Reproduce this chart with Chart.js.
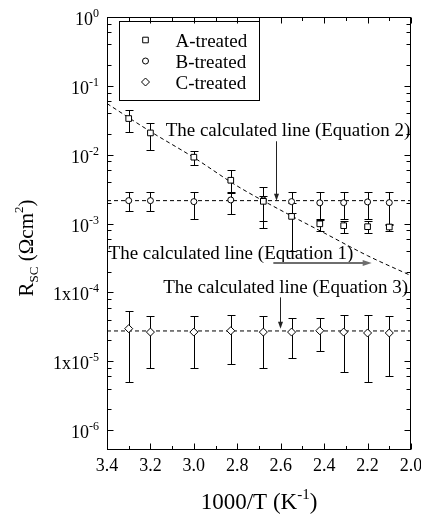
<!DOCTYPE html>
<html>
<head>
<meta charset="utf-8">
<script src="https://cdn.jsdelivr.net/npm/chart.js@4.4.1/dist/chart.umd.min.js"></script>
<style>
  body { margin: 0; background: #fff; }
  #wrap { width: 421px; height: 514px; }
</style>
</head>
<body>
<div id="wrap"><canvas id="chart" width="421" height="514"></canvas></div>
<script>
// 1000/T positions of the measured points
const xValues = [3.3, 3.2, 3.0, 2.83, 2.68, 2.55, 2.42, 2.31, 2.2, 2.1];

// A-treated
const aValues = [0.0335, 0.0207, 0.0092, 0.00425, 0.0021, 0.00127, 0.00099, 0.00093, 0.0009, 0.00089];
const aLow    = [0.0212, 0.0116, 0.0070, 0.0028, 0.00085, 0.000404, 0.00077, 0.00073, 0.00072, 0.00077];
const aHigh   = [0.0442, 0.029, 0.0112, 0.00593, 0.0025, 0.002, 0.00114, 0.00108, 0.0011, 0.001];

// B-treated
const bValues = [0.00215, 0.00215, 0.00208, 0.0022, 0.0022, 0.00208, 0.002, 0.00201, 0.00206, 0.00201];
const bLow    = [0.0015, 0.0015, 0.00118, 0.00139, 0.00108, 0.0014, 0.00118, 0.00118, 0.00118, 0.00096];
const bHigh   = [0.00288, 0.00288, 0.00288, 0.00288, 0.00336, 0.00288, 0.00288, 0.00288, 0.00288, 0.00288];

// C-treated
const cValues = [2.97e-5, 2.65e-5, 2.65e-5, 2.77e-5, 2.65e-5, 2.65e-5, 2.77e-5, 2.65e-5, 2.57e-5, 2.57e-5];
const cLow    = [4.99e-6, 8.05e-6, 8.05e-6, 8.98e-6, 8.05e-6, 1.11e-5, 1.39e-5, 6.97e-6, 4.99e-6, 6.01e-6];
const cHigh   = [5.42e-5, 4.54e-5, 4.54e-5, 4.69e-5, 4.54e-5, 4.25e-5, 4.25e-5, 4.69e-5, 4.69e-5, 4.54e-5];

// calculated lines
const eq2X = [3.4, 3.2, 3.0, 2.8, 2.6, 2.4, 2.2, 2.0];
const eq2Y = [0.0553, 0.0217, 0.00908, 0.0035, 0.00156, 0.00073, 0.000341, 0.000175];
const eq1Level = 0.00215;
const eq3Level = 2.75e-5;

// tick labels
const xTickValues = [3.4, 3.2, 3.0, 2.8, 2.6, 2.4, 2.2, 2.0];
const xTickLabels = ["3.4", "3.2", "3.0", "2.8", "2.6", "2.4", "2.2", "2.0"];
const xMinorTicks = [3.3, 3.1, 2.9, 2.7, 2.5, 2.3, 2.1];
const yTickValues = [1, 0.1, 0.01, 1e-3, 1e-4, 1e-5, 1e-6];
const yTickBases  = ["10", "10", "10", "10", "1x10", "1x10", "10"];
const yTickExps   = ["0", "-1", "-2", "-3", "-4", "-5", "-6"];

const serif = '"Liberation Serif", "Times New Roman", serif';

function pairs(xs, ys) {
  return xs.map((x, i) => ({ x: x, y: ys[i] }));
}

// draws text made of pieces with different sizes (for super/subscripts)
function drawRuns(ctx, runs, x, y, align) {
  let total = 0;
  runs.forEach(r => {
    ctx.font = r.size + "px " + serif;
    r.w = ctx.measureText(r.t).width;
    total += r.w;
  });
  let cx = align === "right" ? x - total : align === "center" ? x - total / 2 : x;
  ctx.textAlign = "left";
  ctx.textBaseline = "alphabetic";
  runs.forEach(r => {
    ctx.font = r.size + "px " + serif;
    ctx.fillText(r.t, cx, y + (r.dy || 0));
    cx += r.w;
  });
}

function marker(ctx, style, x, y) {
  ctx.beginPath();
  if (style === "rect") {
    ctx.rect(x - 2.8, y - 2.8, 5.6, 5.6);
  } else if (style === "circle") {
    ctx.arc(x, y, 3, 0, Math.PI * 2);
  } else {
    ctx.moveTo(x - 4, y); ctx.lineTo(x, y - 4); ctx.lineTo(x + 4, y); ctx.lineTo(x, y + 4); ctx.closePath();
  }
  ctx.fillStyle = "#fff";
  ctx.fill();
  ctx.strokeStyle = "#000";
  ctx.lineWidth = 1;
  ctx.stroke();
}

function arrowHead(ctx, x, y, dir, len, half) {
  ctx.beginPath();
  if (dir === "down") {
    ctx.moveTo(x, y); ctx.lineTo(x - half, y - len); ctx.lineTo(x + half, y - len);
  } else {
    ctx.moveTo(x, y); ctx.lineTo(x - len, y - half); ctx.lineTo(x - len, y + half);
  }
  ctx.closePath();
  ctx.fill();
}

// error bars, drawn under the markers
const errorBars = {
  id: "errorBars",
  beforeDatasetsDraw(chart) {
    const ctx = chart.ctx;
    const xs = chart.scales.x, ys = chart.scales.y;
    const sets = [[aLow, aHigh], [bLow, bHigh], [cLow, cHigh]];
    ctx.save();
    ctx.strokeStyle = "#000";
    ctx.lineWidth = 1;
    sets.forEach(s => {
      xValues.forEach((xv, i) => {
        const px = Math.round(xs.getPixelForValue(xv)) + 0.5;
        const lo = Math.round(ys.getPixelForValue(s[0][i])) + 0.5;
        const hi = Math.round(ys.getPixelForValue(s[1][i])) + 0.5;
        ctx.beginPath();
        ctx.moveTo(px, lo); ctx.lineTo(px, hi);
        ctx.moveTo(px - 4, lo); ctx.lineTo(px + 4, lo);
        ctx.moveTo(px - 4, hi); ctx.lineTo(px + 4, hi);
        ctx.stroke();
      });
    });
    ctx.restore();
  }
};

// frame, inward ticks, labels, legend and annotations
const decorations = {
  id: "decorations",
  afterDraw(chart) {
    const ctx = chart.ctx;
    const a = chart.chartArea;
    const xs = chart.scales.x, ys = chart.scales.y;
    const L = a.left + 0.5, R = a.right - 0.5, T = a.top + 0.5, B = a.bottom - 0.5;
    ctx.save();
    ctx.strokeStyle = "#000";
    ctx.fillStyle = "#000";
    ctx.lineWidth = 1;
    ctx.strokeRect(L, T, R - L, B - T);

    ctx.beginPath();
    xTickValues.forEach(v => {
      const p = Math.round(xs.getPixelForValue(v)) + 0.5;
      ctx.moveTo(p, B); ctx.lineTo(p, B - 6);
      ctx.moveTo(p, T); ctx.lineTo(p, T + 6);
    });
    xMinorTicks.forEach(v => {
      const p = Math.round(xs.getPixelForValue(v)) + 0.5;
      ctx.moveTo(p, B); ctx.lineTo(p, B - 3.5);
      ctx.moveTo(p, T); ctx.lineTo(p, T + 3.5);
    });
    yTickValues.forEach(v => {
      const p = Math.round(ys.getPixelForValue(v)) + 0.5;
      ctx.moveTo(L, p); ctx.lineTo(L + 6, p);
      ctx.moveTo(R, p); ctx.lineTo(R - 6, p);
      [2, 4, 6, 8].forEach(m => {
        const mv = v * m;
        if (mv > ys.max || mv < ys.min) return;
        const q = Math.round(ys.getPixelForValue(mv)) + 0.5;
        ctx.moveTo(L, q); ctx.lineTo(L + 4, q);
        ctx.moveTo(R, q); ctx.lineTo(R - 4, q);
      });
    });
    ctx.stroke();

    // tick labels
    xTickValues.forEach((v, i) => {
      drawRuns(ctx, [{ t: xTickLabels[i], size: 18 }], xs.getPixelForValue(v), a.bottom + 21, "center");
    });
    yTickValues.forEach((v, i) => {
      const p = ys.getPixelForValue(v);
      drawRuns(ctx, [
        { t: yTickBases[i], size: 18 },
        { t: yTickExps[i], size: 12, dy: -8 }
      ], a.left - 8, p + 8, "right");
    });

    // axis titles
    drawRuns(ctx, [
      { t: "1000/T (K", size: 23 },
      { t: "-1", size: 15, dy: -10 },
      { t: ")", size: 23 }
    ], (a.left + a.right) / 2, 509, "center");
    ctx.save();
    ctx.translate(33, 248);
    ctx.rotate(-Math.PI / 2);
    drawRuns(ctx, [
      { t: "R", size: 21 },
      { t: "SC", size: 13, dy: 5 },
      { t: " (\u03A9cm", size: 21 },
      { t: "2", size: 13, dy: -10 },
      { t: ")", size: 21 }
    ], 0, 0, "center");
    ctx.restore();

    // legend box
    const lx = a.left + 12, ly = a.top + 3.5;
    ctx.strokeRect(Math.round(lx) + 0.5, Math.round(ly) + 0.5, 140, 79);
    const styles = ["rect", "circle", "rectRot"];
    [0, 1, 2].forEach(i => {
      const cy = ly + 19.5 + i * 21;
      marker(ctx, styles[i], lx + 26.5, cy);
      ctx.fillStyle = "#000";
      drawRuns(ctx, [{ t: chart.data.datasets[i].label, size: 19 }], lx + 56.5, cy + 6.5, "left");
    });

    // annotations
    ctx.fillStyle = "#000";
    drawRuns(ctx, [{ t: "The calculated line (Equation 2)", size: 19 }],
      xs.getPixelForValue(3.130), ys.getPixelForValue(0.0185), "left");
    drawRuns(ctx, [{ t: "The calculated line (Equation 1)", size: 19 }],
      xs.getPixelForValue(3.393), ys.getPixelForValue(3.04e-4), "left");
    drawRuns(ctx, [{ t: "The calculated line (Equation 3)", size: 19 }],
      xs.getPixelForValue(3.141), ys.getPixelForValue(9.9e-5), "left");

    // Equation 2 arrow
    let ax = Math.round(xs.getPixelForValue(2.622)) + 0.5;
    let y1 = ys.getPixelForValue(0.01566), y2 = ys.getPixelForValue(eq1Level);
    ctx.strokeStyle = "#222";
    ctx.fillStyle = "#222";
    ctx.beginPath(); ctx.moveTo(ax, y1); ctx.lineTo(ax, y2 - 5); ctx.stroke();
    arrowHead(ctx, ax, y2, "down", 7, 2.5);

    // Equation 3 arrow
    ax = Math.round(xs.getPixelForValue(2.603)) + 0.5;
    y1 = ys.getPixelForValue(8.46e-5); y2 = ys.getPixelForValue(2.97e-5);
    ctx.beginPath(); ctx.moveTo(ax, y1); ctx.lineTo(ax, y2 - 5); ctx.stroke();
    arrowHead(ctx, ax, y2, "down", 7, 2.5);

    // Equation 1 arrow (grey, horizontal)
    const hy = ys.getPixelForValue(2.67e-4);
    const hx1 = xs.getPixelForValue(2.634), hx2 = xs.getPixelForValue(2.181);
    ctx.strokeStyle = "#6e6e6e";
    ctx.fillStyle = "#6e6e6e";
    ctx.lineWidth = 2;
    ctx.beginPath(); ctx.moveTo(hx1, hy); ctx.lineTo(hx2 - 6, hy); ctx.stroke();
    arrowHead(ctx, hx2, hy, "right", 9, 3);
    ctx.restore();
  }
};

const pointStyleOpts = {
  borderColor: "#000",
  backgroundColor: "#fff",
  borderWidth: 1,
  showLine: false,
  order: 0
};

new Chart(document.getElementById("chart"), {
  type: "scatter",
  data: {
    datasets: [
      Object.assign({ label: "A-treated", data: pairs(xValues, aValues), pointStyle: "rect", pointRadius: 4 }, pointStyleOpts),
      Object.assign({ label: "B-treated", data: pairs(xValues, bValues), pointStyle: "circle", pointRadius: 3 }, pointStyleOpts),
      Object.assign({ label: "C-treated", data: pairs(xValues, cValues), pointStyle: "rectRot", pointRadius: 4 }, pointStyleOpts),
      {
        label: "Equation 2",
        data: pairs(eq2X, eq2Y),
        showLine: true,
        pointRadius: 0,
        borderColor: "#000",
        borderWidth: 1,
        borderDash: [4, 3],
        cubicInterpolationMode: "monotone",
        order: 1
      },
      {
        label: "Equation 1",
        data: [{ x: 3.4, y: eq1Level }, { x: 2.0, y: eq1Level }],
        showLine: true,
        pointRadius: 0,
        borderColor: "#000",
        borderWidth: 1,
        borderDash: [4, 3],
        order: 1
      },
      {
        label: "Equation 3",
        data: [{ x: 3.4, y: eq3Level }, { x: 2.0, y: eq3Level }],
        showLine: true,
        pointRadius: 0,
        borderColor: "#000",
        borderWidth: 1,
        borderDash: [4, 3],
        order: 1
      }
    ]
  },
  options: {
    responsive: false,
    animation: false,
    events: [],
    layout: { padding: { top: 17, right: 10, left: 0, bottom: 0 } },
    plugins: {
      legend: { display: false },
      tooltip: { enabled: false }
    },
    scales: {
      x: {
        type: "linear",
        reverse: true,
        min: 2.0,
        max: 3.4,
        ticks: { display: false },
        grid: { display: false },
        border: { display: false },
        afterFit: s => { s.height = 64; }
      },
      y: {
        type: "logarithmic",
        min: 5.13e-7,
        max: 1,
        ticks: { display: false },
        grid: { display: false },
        border: { display: false },
        afterFit: s => { s.width = 107; }
      }
    }
  },
  plugins: [errorBars, decorations]
});
</script>
</body>
</html>
